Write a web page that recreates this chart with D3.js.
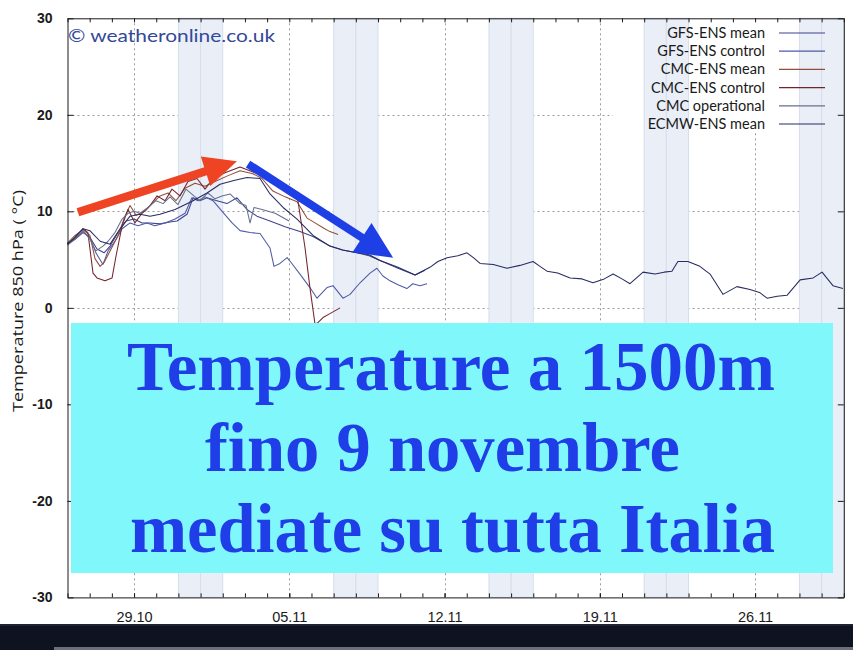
<!DOCTYPE html>
<html><head><meta charset="utf-8">
<script src="https://cdn.jsdelivr.net/npm/d3@7"></script>
<style>body{margin:0;background:#fff;overflow:hidden} svg{display:block}</style>
</head><body>
<svg id="c" width="853" height="650"></svg>
<script>
// ---------------- DATA ----------------
const startDate = "2020-10-26";
const endDate = "2020-11-30";
const yTicks = [-30, -20, -10, 0, 10, 20, 30];
const yGrid = [-20, -10, 0, 10, 20];
const xTickDates = ["2020-10-29", "2020-11-05", "2020-11-12", "2020-11-19", "2020-11-26"];
const weekendDays = ["2020-10-31", "2020-11-01", "2020-11-07", "2020-11-08", "2020-11-14",
                     "2020-11-15", "2020-11-21", "2020-11-22", "2020-11-28", "2020-11-29"];
const seriesNames = ["GFS-ENS mean", "GFS-ENS control", "CMC-ENS mean", "CMC-ENS control", "CMC operational", "ECMW-ENS mean"];
const seriesColors = ["#3f4390", "#4f5aa4", "#8e4f3c", "#74252b", "#66718c", "#282c60"];

// [days since 26.10, temperature °C]
const gfsEnsMean = [[0,6.7],[0.34,7.1],[0.70,7.8],[1.01,7.3],[1.33,6.1],[1.65,5.7],[1.92,6.4],[2.28,7.8],[2.64,9.0],[3.00,9.2],[3.36,8.8],[3.72,8.8],[4.17,8.7],[4.62,8.9],[4.94,9.0],[5.39,9.7],[5.66,11.4],[5.97,11.1],[6.29,11.4],[6.74,11.1],[7.19,10.8],[7.64,11.4],[8.09,10.2],[8.54,9.5],[9.13,9.0],[9.81,8.4],[10.48,7.9],[11.07,7.4],[11.83,6.4],[12.4,6.0],[13.05,5.7],[13.6,5.4],[14.09,4.9],[14.9,4.1],[15.67,3.4],[16.12,3.9]];
const gfsEnsControl = [[0,6.6],[0.34,7.2],[0.70,7.9],[1.01,7.3],[1.28,5.7],[1.60,4.5],[1.83,5.9],[2.14,6.9],[2.46,8.2],[2.82,8.8],[3.18,8.5],[3.58,8.8],[3.94,8.5],[4.40,8.8],[4.85,9.2],[5.30,9.8],[5.61,11.4],[5.88,11.1],[6.20,11.5],[6.56,11.1],[6.97,10.0],[7.42,8.8],[7.78,8.0],[8.23,7.8],[8.68,7.7],[9.13,6.2],[9.31,4.3],[9.58,4.6],[9.90,5.2],[10.08,4.7],[10.48,3.5],[10.93,2.1],[11.25,1.0],[11.70,2.1],[11.97,2.3],[12.42,1.0],[12.74,1.4],[13.19,2.6],[13.64,3.6],[13.95,4.1],[14.22,3.3],[14.54,2.8],[14.90,2.4],[15.30,2.0],[15.57,2.5],[15.89,2.3],[16.21,2.5]];
const cmcEnsMean = [[0,6.7],[0.34,7.5],[0.70,8.1],[1.01,7.5],[1.24,5.1],[1.47,4.3],[1.65,4.7],[1.92,5.9],[2.28,7.5],[2.59,9.5],[2.82,10.6],[3.09,9.6],[3.49,10.0],[3.81,10.8],[4.17,11.6],[4.53,11.9],[4.89,11.1],[5.30,12.4],[5.75,12.9],[6.20,12.6],[6.65,13.1],[7.24,13.7],[7.78,14.2],[8.36,13.9],[8.77,13.4],[9.26,12.1],[9.81,11.5],[10.35,11.0],[10.80,9.3],[11.16,8.8],[11.52,8.3],[11.83,7.9],[12.20,7.6]];
const cmcEnsControl = [[0,6.6],[0.34,7.3],[0.70,8.2],[0.92,7.8],[1.15,3.6],[1.33,3.1],[1.69,2.8],[2.01,3.1],[2.19,5.4],[2.46,8.5],[2.73,10.2],[3.04,8.8],[3.36,9.8],[3.72,10.6],[4.04,11.6],[4.40,11.1],[4.71,12.3],[5.07,11.6],[5.43,13.1],[5.84,13.4],[6.20,12.3],[6.56,13.4],[7.10,14.0],[7.78,14.6],[8.45,14.0],[8.99,13.5],[9.58,12.8],[10.17,12.1],[10.39,11.1],[10.71,6.2],[10.93,2.1],[11.16,-1.7],[11.30,-1.5],[11.52,-1.0],[11.83,-0.6],[12.29,0.0]];
const cmcOperational = [[0,6.5],[0.34,7.1],[0.70,8.0],[1.01,7.1],[1.28,5.9],[1.60,6.4],[1.83,6.9],[2.14,7.8],[2.46,9.2],[2.73,9.8],[3.00,10.0],[3.27,9.8],[3.63,10.4],[3.99,11.1],[4.31,10.8],[4.62,11.5],[4.98,10.7],[5.34,12.3],[5.70,11.6],[5.97,11.1],[6.33,11.9],[6.65,11.3],[6.97,11.6],[7.33,11.8],[7.78,10.8],[8.05,10.6],[8.23,8.8],[8.41,10.4],[8.77,10.2],[9.36,9.8],[9.99,9.0]];
const ecmwfEnsMean = [[0,6.6],[0.34,7.3],[0.70,8.2],[1.01,8.0],[1.47,6.9],[1.92,6.6],[2.37,8.2],[2.82,9.5],[3.27,9.7],[3.72,9.5],[4.17,9.7],[4.85,10.2],[5.66,11.1],[6.29,11.9],[6.88,12.8],[7.5,13.2],[8.09,13.5],[8.68,13.4],[9.13,11.8],[9.72,10.4],[10.35,9.2],[11.07,7.5],[11.83,6.4],[12.4,6.0],[13.05,5.7],[13.6,5.5],[14.09,4.9],[14.9,4.2],[15.67,3.4],[16.34,4.2],[16.7,4.8],[17.11,5.2],[17.6,5.4],[18.01,5.7],[18.3,5.2],[18.6,4.6],[19.2,4.5],[19.81,4.1],[20.4,4.4],[20.99,4.8],[21.3,4.3],[21.62,3.8],[22.1,3.6],[22.66,3.1],[23.2,3.0],[23.69,2.6],[24.2,3.0],[24.6,3.5],[25.0,3.0],[25.36,2.5],[25.95,3.7],[26.49,3.5],[26.9,3.7],[27.25,3.8],[27.52,4.8],[27.97,4.8],[28.51,4.3],[28.97,3.5],[29.55,1.4],[30.18,2.2],[30.77,1.9],[31.2,1.6],[31.54,1.0],[32.0,1.2],[32.44,1.3],[33.03,2.9],[33.62,3.1],[34.02,3.7],[34.51,2.3],[34.96,2.0]];
const seriesData = [gfsEnsMean, gfsEnsControl, cmcEnsMean, cmcEnsControl, cmcOperational, ecmwfEnsMean];

// annotation arrows in chart units [day, °C]
const redArrow = [[0.47, 9.9], [7.64, 15.2]];
const blueArrow = [[8.14, 14.9], [14.68, 5.2]];
const overlayLines = ["Temperature a 1500m", "fino 9 novembre", "mediate su tutta Italia"];
const yTitle = "Temperature 850 hPa ( °C)";
const copyright = "© weatheronline.co.uk";

// ---------------- CHART ----------------
const W = 853, H = 650;
const L = 67.5, R = 843.8, T = 18.3, B = 597.4;
const svg = d3.select("#c");
const parse = s => new Date(s + "T00:00:00Z");
const t0 = parse(startDate);
const dayToDate = d => new Date(t0.getTime() + d * 864e5);

const x = d3.scaleUtc().domain([parse(startDate), parse(endDate)]).range([L, R]);
const y = d3.scaleLinear().domain([-30, 30]).range([B, T]);

svg.append("rect").attr("width", W).attr("height", H).attr("fill", "#fff");

// grid
const grid = svg.append("g").attr("stroke", "#9c9c9c").attr("stroke-dasharray", "2,3").attr("stroke-width", 1);
grid.selectAll("line.h").data(yGrid).join("line").attr("class", "h")
  .attr("x1", L).attr("x2", R).attr("y1", d => Math.round(y(d)) + 0.5).attr("y2", d => Math.round(y(d)) + 0.5);
grid.selectAll("line.v").data(xTickDates).join("line").attr("class", "v")
  .attr("y1", T).attr("y2", B).attr("x1", d => Math.round(x(parse(d))) + 0.5).attr("x2", d => Math.round(x(parse(d))) + 0.5);

// legend background
svg.append("rect").attr("x", 613).attr("y", T + 1).attr("width", R - 613).attr("height", 113).attr("fill", "#fff");

// weekend bands
svg.append("g").selectAll("rect").data(weekendDays).join("rect")
  .attr("x", d => x(parse(d)))
  .attr("width", d => x(d3.utcDay.offset(parse(d), 1)) - x(parse(d)))
  .attr("y", T).attr("height", B - T)
  .attr("fill", "#e9eef7").attr("stroke", "#d6deec").attr("stroke-width", 1);

// series
const line = d3.line().x(d => x(dayToDate(d[0]))).y(d => y(d[1]));
svg.append("g").attr("fill", "none").attr("stroke-width", 1.05).attr("stroke-linejoin", "round")
  .selectAll("path").data(seriesData).join("path")
  .attr("d", line).attr("stroke", (d, i) => seriesColors[i]);

// axes / frame
const axisG = svg.append("g").attr("font-family", "Lato, 'DejaVu Sans', sans-serif");
const allDays = d3.utcDay.range(parse(startDate), d3.utcDay.offset(parse(endDate), 1));
axisG.append("g").attr("transform", `translate(0,${B})`)
  .call(d3.axisBottom(x).tickValues(allDays).tickSize(-4).tickSizeOuter(0).tickFormat(""));
axisG.append("g").attr("transform", `translate(0,${T})`)
  .call(d3.axisTop(x).tickValues(allDays).tickSize(-4).tickSizeOuter(0).tickFormat(""));
const majorB = axisG.append("g").attr("transform", `translate(0,${B})`)
  .call(d3.axisBottom(x).tickValues(xTickDates.map(parse)).tickSize(-4).tickSizeOuter(0)
    .tickPadding(14).tickFormat(d3.utcFormat("%d.%m")));
majorB.select(".domain").remove();
majorB.selectAll("text").attr("font-size", 14.5).attr("fill", "#1a1a1a");
const leftA = axisG.append("g").attr("transform", `translate(${L},0)`)
  .call(d3.axisLeft(y).tickValues(yTicks).tickSize(-6).tickSizeOuter(0).tickPadding(15).tickFormat(d => String(d)));
leftA.selectAll("text").attr("font-size", 14).attr("font-weight", 700).attr("fill", "#1a1a1a");
axisG.append("g").attr("transform", `translate(${R},0)`)
  .call(d3.axisRight(y).tickValues(yTicks).tickSize(-6).tickSizeOuter(0).tickFormat(""));
axisG.selectAll(".domain, .tick line").attr("stroke", "#1a1a1a");

// y title
svg.append("text").attr("transform", `translate(23,${301}) rotate(-90)`)
  .attr("text-anchor", "middle").attr("font-family", "'Open Sans', sans-serif").attr("font-size", 14.5)
  .attr("fill", "#1a1a1a").attr("textLength", 222).attr("lengthAdjust", "spacingAndGlyphs").text(yTitle);

// copyright
svg.append("text").attr("x", 68).attr("y", 42).attr("font-family", "Lato, sans-serif").attr("font-size", 17)
  .attr("fill", "#34489a").attr("textLength", 207).attr("lengthAdjust", "spacingAndGlyphs").text(copyright);

// legend
const leg = svg.append("g").attr("font-family", "Lato, sans-serif").attr("font-size", 14.5);
seriesNames.forEach((n, i) => {
  const cy = 33 + i * 18.2;
  leg.append("text").attr("x", 765).attr("y", cy + 5).attr("text-anchor", "end").attr("fill", "#1a1a1a").text(n);
  leg.append("line").attr("x1", 779).attr("x2", 825).attr("y1", cy).attr("y2", cy)
    .attr("stroke", seriesColors[i]).attr("stroke-width", 1.2);
});

// arrows
function arrow(pts, color, sw, hl, hw) {
  const [a, b] = pts;
  const x1 = x(dayToDate(a[0])), y1 = y(a[1]), x2 = x(dayToDate(b[0])), y2 = y(b[1]);
  const len = Math.hypot(x2 - x1, y2 - y1), ux = (x2 - x1) / len, uy = (y2 - y1) / len;
  const nx = -uy, ny = ux;
  const bx = x2 - ux * hl, by = y2 - uy * hl;
  const p = [
    [x1 + nx * sw / 2, y1 + ny * sw / 2], [bx + nx * sw / 2, by + ny * sw / 2],
    [bx + nx * hw / 2, by + ny * hw / 2], [x2, y2],
    [bx - nx * hw / 2, by - ny * hw / 2], [bx - nx * sw / 2, by - ny * sw / 2],
    [x1 - nx * sw / 2, y1 - ny * sw / 2]];
  svg.append("path").attr("d", "M" + p.map(q => q.join(",")).join("L") + "Z").attr("fill", color);
}
arrow(redArrow, "#ef4423", 8.5, 33, 31);
arrow(blueArrow, "#1f3fe6", 8, 37, 35);

// overlay box
svg.append("rect").attr("x", 71).attr("y", 323).attr("width", 762).attr("height", 250).attr("fill", "#80f8fb");
const ov = svg.append("g").attr("font-family", "'Liberation Serif', 'Times New Roman', serif")
  .attr("font-weight", 700).attr("font-size", 69).attr("fill", "#1f3ee8");
const ovPos = [[127, 390, 648], [205, 471, 475], [130, 552, 645]];
overlayLines.forEach((s, i) => {
  ov.append("text").attr("x", ovPos[i][0]).attr("y", ovPos[i][1])
    .attr("textLength", ovPos[i][2]).attr("lengthAdjust", "spacingAndGlyphs").text(s);
});

// bottom dark strip
svg.append("rect").attr("x", 0).attr("y", 624).attr("width", W).attr("height", 26).attr("fill", "#0f1320");
svg.append("rect").attr("x", 0).attr("y", 624).attr("width", W).attr("height", 2).attr("fill", "#1d2233");
svg.append("rect").attr("x", 54).attr("y", 647).attr("width", W - 54).attr("height", 3).attr("fill", "#6b6f79");
</script>
</body></html>
